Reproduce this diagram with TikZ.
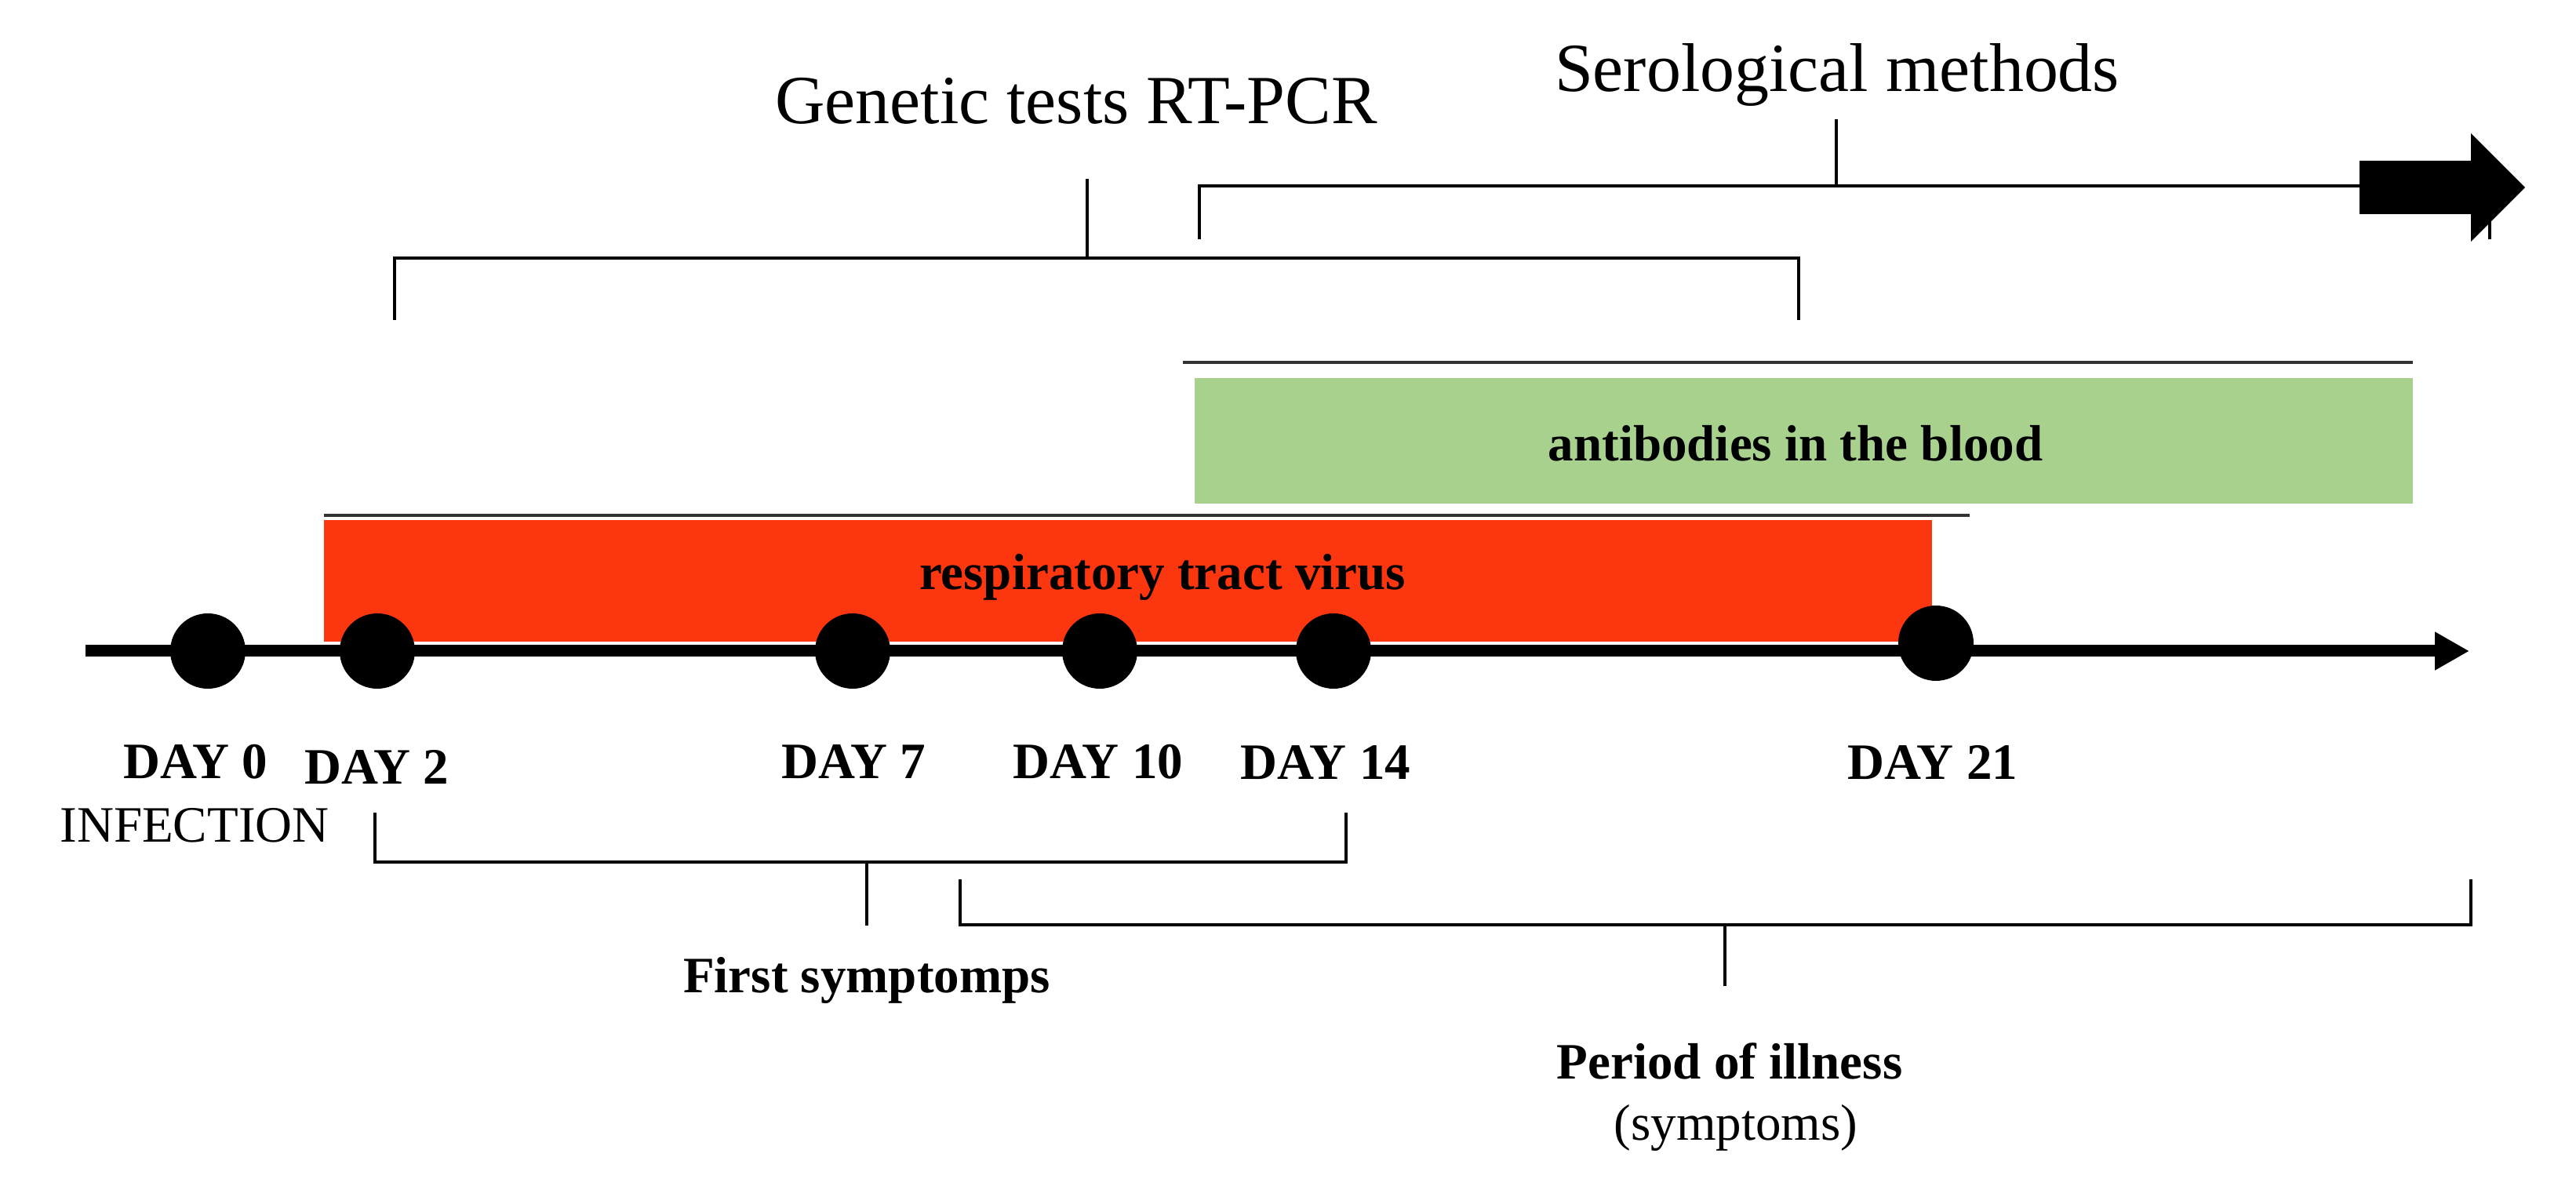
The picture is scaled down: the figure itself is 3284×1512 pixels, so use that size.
\documentclass[tikz,border=0pt]{standalone}
\usepackage{fontspec}
\setmainfont{Liberation Serif}
\usetikzlibrary{arrows.meta}
\definecolor{virusred}{RGB}{252,54,14}
\definecolor{abgreen}{RGB}{169,209,142}
\begin{document}
\begin{tikzpicture}[x=0.1mm,y=-0.1mm,
  dot/.style={circle,fill=black,inner sep=0pt,minimum size=9.6mm},
  daylab/.style={anchor=base,font=\fontsize{18.5}{20}\selectfont\bfseries,inner sep=0pt},
  plainlab/.style={anchor=base,font=\fontsize{18.5}{20}\selectfont,inner sep=0pt},
  toplab/.style={anchor=base,font=\fontsize{25}{28}\selectfont,inner sep=0pt},
  brk/.style={line width=0.45mm},
  rulel/.style={line width=0.33mm,black!80},
  axisl/.style={line width=1.5mm,-{Triangle[length=4.4mm,width=4.6mm]}}
]
\useasboundingbox (0,0) rectangle (3284,1512);

% coloured bands
\fill[abgreen] (1523,482) rectangle (3076,642);
\draw[rulel] (1508,462) -- (3076,462);
\fill[virusred] (413,663) rectangle (2463,818);
\draw[rulel] (413,657) -- (2511,657);
\node[daylab] (virus) at (1482,752) {respiratory tract virus};
\node[daylab] (ab) at (2289,588) {antibodies in the blood};

% time axis
\coordinate (axstart) at (109,830);
\coordinate (axend) at (3148,830);
\draw[axisl] (axstart) -- (axend);

\node[dot] (d0) at (265,830) {};
\node[dot] (d2) at (481,830) {};
\node[dot] (d7) at (1087,830) {};
\node[dot] (d10) at (1402,830) {};
\node[dot] (d14) at (1700,830) {};
\node[dot] (d21) at (2468,820) {};

% day labels
\node[daylab] (l0) at (249,993) {DAY 0};
\node[daylab] (l2) at (480,999) {DAY 2};
\node[daylab] (l7) at (1088,993) {DAY 7};
\node[daylab] (l10) at (1400,992) {DAY 10};
\node[daylab] (l14) at (1690,994) {DAY 14};
\node[daylab] (l21) at (2464,994) {DAY 21};
\node[plainlab] (inf) at (248,1073) {INFECTION};

% genetic tests bracket
\coordinate (g1) at (503,408);
\coordinate (g2) at (2293,408);
\coordinate (gm) at (1386,329);
\coordinate (gt) at (1386,228);
\draw[brk] (g1) -- (503,329) -- (2293,329) -- (g2);
\draw[brk] (gm) -- (gt);
\node[toplab] (gen) at (1372,158) {Genetic tests RT-PCR};

% serological bracket
\coordinate (s1) at (1529,305);
\coordinate (s2) at (3174,305);
\coordinate (sm) at (2341,237);
\coordinate (st) at (2341,152);
\draw[brk] (s1) -- (1529,237) -- (3174,237) -- (s2);
\draw[brk] (sm) -- (st);
\node[toplab] (sero) at (2342,117) {Serological methods};
\fill (3008,205) -- (3150,205) -- (3150,170) -- (3219,239) -- (3150,308) -- (3150,273) -- (3008,273) -- cycle;

% first symptoms bracket
\coordinate (f1) at (478,1036);
\coordinate (f2) at (1716,1036);
\coordinate (fm) at (1105,1099);
\coordinate (fb) at (1105,1180);
\draw[brk] (f1) -- (478,1099) -- (1716,1099) -- (f2);
\draw[brk] (fm) -- (fb);
\node[daylab] (first) at (1105,1265) {First symptomps};

% period of illness bracket
\coordinate (p1) at (1224,1121);
\coordinate (p2) at (3150,1121);
\coordinate (pm) at (2199,1179);
\coordinate (pb) at (2199,1257);
\draw[brk] (p1) -- (1224,1179) -- (3150,1179) -- (p2);
\draw[brk] (pm) -- (pb);
\node[daylab] (period) at (2205,1375) {Period of illness};
\node[plainlab] (sympt) at (2213,1453) {(symptoms)};
\end{tikzpicture}
\end{document}
